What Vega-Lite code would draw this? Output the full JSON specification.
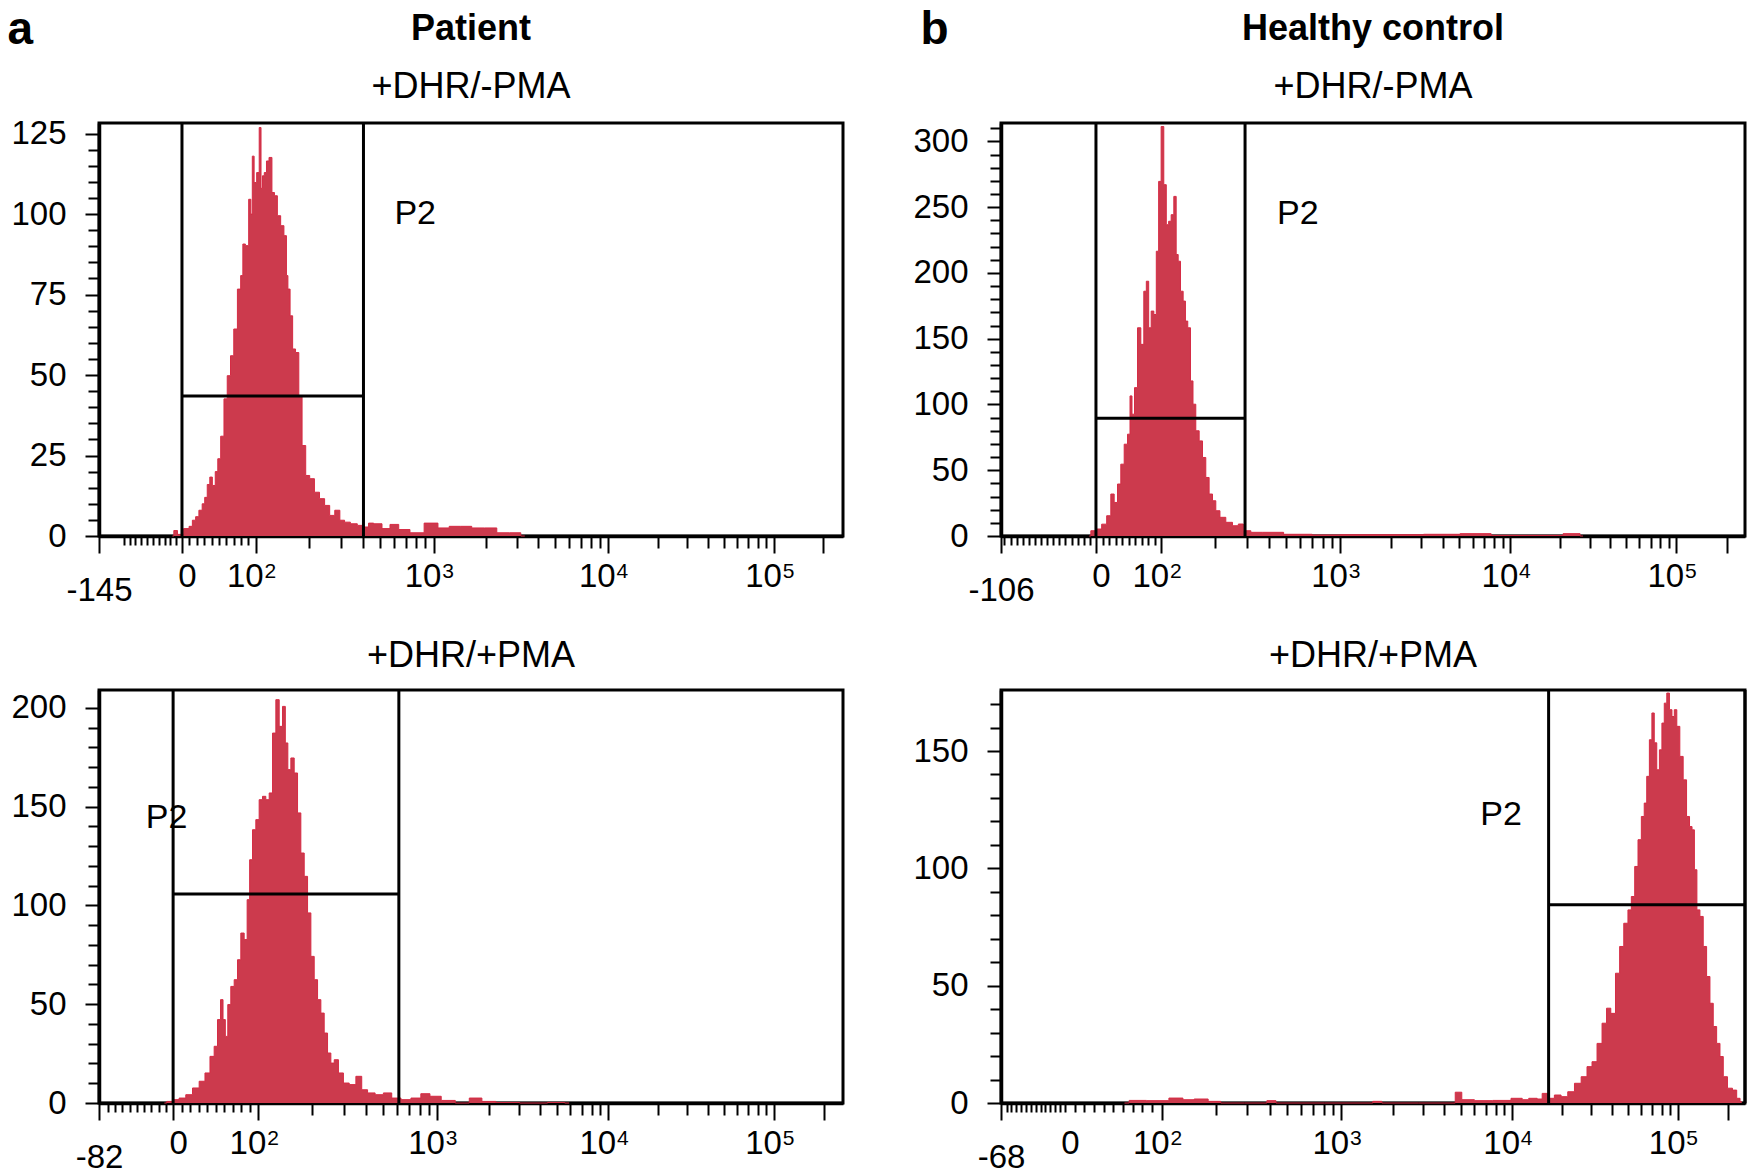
{
  "$schema": "https://vega.github.io/schema/vega-lite/v6.json",
  "background": "white",
  "padding": {"left": 5, "top": 4, "right": 5, "bottom": 3},
  "columns": 2,
  "spacing": {"row": 154, "column": 158},
  "bounds": "flush",
  "datasets": {
    "aT": [
      {"ch":101,"n":0},{"ch":105,"n":1.7},{"ch":111,"n":0.5},{"ch":122,"n":2.3},{"ch":126,"n":3},{"ch":131,"n":4.9},{"ch":135,"n":6},{"ch":140,"n":8},{"ch":144,"n":10},{"ch":147,"n":12},{"ch":151,"n":16},{"ch":154,"n":18.3},{"ch":158,"n":15.7},{"ch":162,"n":20},{"ch":165,"n":24},{"ch":170,"n":31},{"ch":174,"n":42.6},{"ch":179,"n":49.8},{"ch":183,"n":56},{"ch":188,"n":64.3},{"ch":193,"n":76.7},{"ch":197,"n":80.9},{"ch":199,"n":90.7},{"ch":204,"n":90.2},{"ch":208,"n":104.6},{"ch":210,"n":100},{"ch":212,"n":118},{"ch":215,"n":109.8},{"ch":219,"n":112.9},{"ch":222,"n":126.9},{"ch":224,"n":108},{"ch":226,"n":111.9},{"ch":229,"n":112.9},{"ch":232,"n":116.5},{"ch":236,"n":117.6},{"ch":240,"n":106.7},{"ch":243,"n":105.7},{"ch":248,"n":99.5},{"ch":252,"n":96.4},{"ch":257,"n":93.3},{"ch":259,"n":80.9},{"ch":261,"n":76.7},{"ch":265,"n":68.4},{"ch":268,"n":58.1},{"ch":273,"n":57},{"ch":277,"n":43.6},{"ch":282,"n":28.1},{"ch":287,"n":18.8},{"ch":293,"n":17.8},{"ch":300,"n":13.6},{"ch":307,"n":11.6},{"ch":314,"n":9.5},{"ch":321,"n":6.4},{"ch":328,"n":8},{"ch":335,"n":4.9},{"ch":341,"n":4.3},{"ch":351,"n":3.8},{"ch":360,"n":3.3},{"ch":369,"n":2.8},{"ch":373,"n":4},{"ch":383,"n":3.8},{"ch":396,"n":2.3},{"ch":405,"n":3.6},{"ch":420,"n":2},{"ch":436,"n":1},{"ch":459,"n":4},{"ch":474,"n":2.5},{"ch":490,"n":3},{"ch":505,"n":3},{"ch":521,"n":2.5},{"ch":540,"n":2.5},{"ch":555,"n":1},{"ch":575,"n":1},{"ch":586,"n":0}
    ],
    "aB": [
      {"ch":90,"n":0},{"ch":96.5,"n":0.8},{"ch":105.8,"n":1.7},{"ch":114.8,"n":2.5},{"ch":124.1,"n":4.2},{"ch":133.3,"n":7.6},{"ch":142.4,"n":11},{"ch":149.3,"n":15.2},{"ch":156.2,"n":23.6},{"ch":160.8,"n":28.7},{"ch":165.4,"n":42.2},{"ch":169.1,"n":52.3},{"ch":172.3,"n":42.2},{"ch":175.4,"n":33.7},{"ch":179.1,"n":49.8},{"ch":183.7,"n":59},{"ch":188.4,"n":62.4},{"ch":192.9,"n":72.5},{"ch":197.5,"n":86},{"ch":202.1,"n":82.7},{"ch":205.7,"n":102.9},{"ch":209,"n":123.1},{"ch":213.6,"n":138.3},{"ch":218.1,"n":143.4},{"ch":222.8,"n":153.5},{"ch":227.3,"n":155.2},{"ch":231.9,"n":153.5},{"ch":236.6,"n":156.9},{"ch":241.1,"n":187.2},{"ch":245.7,"n":204.1},{"ch":250.3,"n":190.6},{"ch":254.9,"n":200.7},{"ch":258,"n":182.2},{"ch":261.8,"n":168.7},{"ch":266.3,"n":174.6},{"ch":271,"n":167},{"ch":275.5,"n":146.8},{"ch":280.1,"n":126.5},{"ch":284.8,"n":114.7},{"ch":289.3,"n":96.2},{"ch":293.9,"n":74.2},{"ch":298.5,"n":62.4},{"ch":303.1,"n":52.3},{"ch":307.6,"n":45.5},{"ch":312.3,"n":35.4},{"ch":316.8,"n":25.3},{"ch":321.4,"n":20.2},{"ch":326.1,"n":21.9},{"ch":333,"n":15.2},{"ch":339.8,"n":10.1},{"ch":348.9,"n":9.3},{"ch":358.2,"n":13.5},{"ch":365,"n":6.7},{"ch":374.3,"n":5.1},{"ch":385.7,"n":4.2},{"ch":397.1,"n":5.1},{"ch":408.7,"n":2.5},{"ch":422.5,"n":1.7},{"ch":436.2,"n":2.5},{"ch":449.7,"n":4.7},{"ch":461.3,"n":3.4},{"ch":480.7,"n":1.3},{"ch":500,"n":0},{"ch":519.3,"n":2.5},{"ch":534.7,"n":0.8},{"ch":557.8,"n":0.3},{"ch":600,"n":0},{"ch":634.9,"n":0.3},{"ch":647,"n":0}
    ],
    "bT": [
      {"ch":121.4,"n":0},{"ch":125.9,"n":4},{"ch":135.1,"n":5.3},{"ch":142,"n":9},{"ch":148.9,"n":15.4},{"ch":153.4,"n":31.9},{"ch":158.1,"n":25.5},{"ch":162.6,"n":39.5},{"ch":167.2,"n":54.6},{"ch":171.9,"n":69.8},{"ch":176.4,"n":77.4},{"ch":178.7,"n":106.5},{"ch":181.9,"n":92.6},{"ch":185.6,"n":112.8},{"ch":190.2,"n":158.3},{"ch":194.7,"n":145.7},{"ch":198.4,"n":186.1},{"ch":201.6,"n":193.7},{"ch":204.9,"n":158.3},{"ch":208.5,"n":171},{"ch":212.2,"n":168.4},{"ch":215.3,"n":216.5},{"ch":218.6,"n":269.6},{"ch":222.2,"n":311.3},{"ch":225.9,"n":267.1},{"ch":229.1,"n":236.7},{"ch":232.4,"n":239.3},{"ch":236,"n":244.3},{"ch":239.7,"n":258.2},{"ch":242.5,"n":214},{"ch":245.2,"n":208.9},{"ch":248.9,"n":186.1},{"ch":252.5,"n":178.6},{"ch":255.2,"n":163.4},{"ch":258.9,"n":158.3},{"ch":262.7,"n":117.9},{"ch":265.8,"n":100.2},{"ch":270.4,"n":80},{"ch":275.1,"n":72.3},{"ch":279.6,"n":59.7},{"ch":284.1,"n":44.5},{"ch":288.8,"n":31.9},{"ch":293.4,"n":26.8},{"ch":297.9,"n":19.2},{"ch":304.8,"n":14.2},{"ch":314,"n":10.4},{"ch":323.2,"n":7.8},{"ch":330.1,"n":9.1},{"ch":337,"n":4},{"ch":350.7,"n":2.8},{"ch":369,"n":2.8},{"ch":408.9,"n":1.3},{"ch":447.5,"n":0.8},{"ch":486,"n":1},{"ch":554.8,"n":1},{"ch":608.5,"n":1.3},{"ch":655.3,"n":1.8},{"ch":693.8,"n":0.5},{"ch":754.4,"n":0.5},{"ch":792.9,"n":1.8},{"ch":801.1,"n":0}
    ],
    "bB": [
      {"ch":170,"n":0},{"ch":182.8,"n":1.1},{"ch":217.6,"n":1},{"ch":244.6,"n":2.1},{"ch":256.2,"n":1.4},{"ch":275.5,"n":1.7},{"ch":294.7,"n":0.7},{"ch":310,"n":0},{"ch":360,"n":0},{"ch":371.9,"n":1},{"ch":385,"n":0},{"ch":505,"n":0},{"ch":518.4,"n":0.7},{"ch":530,"n":0},{"ch":620,"n":0},{"ch":630.4,"n":4.6},{"ch":638,"n":1.4},{"ch":665.1,"n":1},{"ch":688.3,"n":1.1},{"ch":715.6,"n":2},{"ch":719.1,"n":1.4},{"ch":733.6,"n":2},{"ch":742.3,"n":1.7},{"ch":747.4,"n":4.1},{"ch":757,"n":2},{"ch":766.3,"n":3.4},{"ch":775.4,"n":2.7},{"ch":784.7,"n":4.8},{"ch":793.9,"n":8.4},{"ch":803.1,"n":11.2},{"ch":810,"n":15.5},{"ch":816.9,"n":17.6},{"ch":823.8,"n":25.4},{"ch":830.7,"n":34},{"ch":836.2,"n":40.4},{"ch":842.3,"n":38.2},{"ch":849.2,"n":55.3},{"ch":853.7,"n":66.7},{"ch":860.6,"n":76.6},{"ch":865.2,"n":82.3},{"ch":869.9,"n":88},{"ch":874.5,"n":100.8},{"ch":879,"n":112.2},{"ch":883.7,"n":122.1},{"ch":886.9,"n":127.8},{"ch":890.6,"n":139.2},{"ch":894.2,"n":154.8},{"ch":897.5,"n":166.2},{"ch":900.7,"n":153.5},{"ch":904.4,"n":142},{"ch":908,"n":150.5},{"ch":911.3,"n":161.9},{"ch":914.5,"n":170.4},{"ch":918.2,"n":174.7},{"ch":921.8,"n":167.6},{"ch":925.1,"n":164.7},{"ch":928.3,"n":167.6},{"ch":932,"n":160.5},{"ch":936.6,"n":147.7},{"ch":941.2,"n":137.7},{"ch":945.9,"n":122.1},{"ch":949.4,"n":117.8},{"ch":952.8,"n":116.4},{"ch":955.9,"n":99.4},{"ch":959.7,"n":82.3},{"ch":964.2,"n":79.5},{"ch":968.8,"n":66.7},{"ch":973.5,"n":53.9},{"ch":978,"n":42.5},{"ch":982.6,"n":32.6},{"ch":987.3,"n":25.4},{"ch":991.8,"n":19.8},{"ch":996.4,"n":11.2},{"ch":1003.3,"n":6.3},{"ch":1010.2,"n":5.5},{"ch":1014.9,"n":2},{"ch":1019.5,"n":0.6}
    ]
  },
  "concat": [
    {
      "width": 744, "height": 413,
      "title": {"text": "Patient", "subtitle": "+DHR/-PMA", "fontWeight": "bold", "fontSize": 36, "subtitlePadding": 22, "offset": 14, "dy": 114},
      "resolve": {"axis": {"x": "independent", "y": "independent"}},
      "layer": [
        {
          "data": {"name": "aT"},
          "mark": {"type": "area", "interpolate": "step", "color": "#cc3a4d", "opacity": 1, "line": {"color": "#d62b44", "strokeWidth": 1}},
          "encoding": {
            "x": {"field": "ch", "type": "quantitative", "scale": {"domain": [0, 1024], "nice": false, "zero": false},
              "axis": {"title": null, "orient": "bottom", "labelOverlap": false, "labelFlush": false, "labelBound": false, "tickSize": 17,
                "values": [0,114.2,215.9,460.4,700.2,929.2,997.1],
                "labelExpr": "datum.value == 0 ? '-145' : datum.value == 114.2 ? '0' : datum.value > 990 ? '' : '10'",
                "labelOffset": {"condition": [{"test": "datum.value == 0", "value": 0}, {"test": "datum.value < 150", "value": 5}], "value": -11},
                "labelPadding": {"condition": {"test": "datum.value == 0", "value": 21}, "value": 7}}},
            "y": {"field": "n", "type": "quantitative", "scale": {"domain": [0, 128.3], "nice": false},
              "axis": {"title": "a", "orient": "left", "titleAngle": 0, "titleX": -92, "titleY": -80, "titleAlign": "left", "titleBaseline": "alphabetic", "titleFontSize": 46, "titleFontWeight": "bold", "titleColor": "black",
                "values": [0,25,50,75,100,125], "labelOverlap": false, "tickSize": 14, "labelPadding": 19}}
          }
        },
        {"data": {"values": [{"g": 114.2}, {"g": 364}]}, "mark": {"type": "rule", "color": "black", "strokeWidth": 3},
          "encoding": {"x": {"field": "g", "type": "quantitative",
            "axis": {"title": null, "orient": "bottom", "labels": false, "domain": false,
              "values": [34.2,42.2,50.2,58.2,66.2,74.2,82.2,90.2,98.2,106.2,124.4,134.5,144.7,154.9,165.1,175.2,185.4,195.6,205.7,289.5,332.5,363.1,386.8,406.1,422.5,436.7,449.2,532.6,574.8,604.8,628,647,663,676.9,689.2,769.1,809.4,838.1,860.3,878.4,893.7,907,918.7],
              "tickSize": {"condition": {"test": "datum.value > 215.9", "value": 12}, "value": 9}}}}},
        {"data": {"values": [{"g1": 114.2, "g2": 364, "h": 43.5}]}, "mark": {"type": "rule", "color": "black", "strokeWidth": 3},
          "encoding": {"x": {"field": "g1", "type": "quantitative", "axis": null}, "x2": {"field": "g2"},
            "y": {"field": "h", "type": "quantitative", "axis": {"title": null, "orient": "left", "labels": false, "domain": false, "tickSize": 11,
              "values": [5,10,15,20,30,35,40,45,55,60,65,70,80,85,90,95,105,110,115,120]}}}},
        {"data": {"values": [{"tx": 406.6, "ty": 100, "label": "P2"}]}, "mark": {"type": "text", "align": "left", "baseline": "middle", "fontSize": 34, "color": "black"},
          "encoding": {"x": {"field": "tx", "type": "quantitative",
              "axis": {"title": null, "orient": "bottom", "domain": false, "tickSize": 17, "tickOpacity": 0, "labelOverlap": false, "labelFlush": false, "labelBound": false,
                "values": [215.9,460.4,700.2,929.2], "labelExpr": "datum.value < 300 ? '2' : datum.value < 600 ? '3' : datum.value < 800 ? '4' : '5'",
                "labelFontSize": 21, "labelOffset": 14, "labelPadding": 7}},
            "y": {"field": "ty", "type": "quantitative", "axis": null}, "text": {"field": "label"}}}
      ]
    },
    {
      "width": 744, "height": 413,
      "title": {"text": "Healthy control", "subtitle": "+DHR/-PMA", "fontWeight": "bold", "fontSize": 36, "subtitlePadding": 22, "offset": 14, "dy": 114},
      "resolve": {"axis": {"x": "independent", "y": "independent"}},
      "layer": [
        {
          "data": {"name": "bT"},
          "mark": {"type": "area", "interpolate": "step", "color": "#cc3a4d", "opacity": 1, "line": {"color": "#d62b44", "strokeWidth": 1}},
          "encoding": {
            "x": {"field": "ch", "type": "quantitative", "scale": {"domain": [0, 1024], "nice": false, "zero": false},
              "axis": {"title": null, "orient": "bottom", "labelOverlap": false, "labelFlush": false, "labelBound": false, "tickSize": 17,
                "values": [0,130.7,220.6,466.6,701.1,929.4,999.4],
                "labelExpr": "datum.value == 0 ? '-106' : datum.value == 130.7 ? '0' : datum.value > 990 ? '' : '10'",
                "labelOffset": {"condition": [{"test": "datum.value == 0", "value": 0}, {"test": "datum.value < 150", "value": 5}], "value": -11},
                "labelPadding": {"condition": {"test": "datum.value == 0", "value": 21}, "value": 7}}},
            "y": {"field": "n", "type": "quantitative", "scale": {"domain": [0, 314], "nice": false},
              "axis": {"title": "b", "orient": "left", "titleAngle": 0, "titleX": -81, "titleY": -80, "titleAlign": "left", "titleBaseline": "alphabetic", "titleFontSize": 46, "titleFontWeight": "bold", "titleColor": "black",
                "values": [0,50,100,150,200,250,300], "labelOverlap": false, "tickSize": 14, "labelPadding": 19}}
          }
        },
        {"data": {"values": [{"g": 130.7}, {"g": 335.9}]}, "mark": {"type": "rule", "color": "black", "strokeWidth": 3},
          "encoding": {"x": {"field": "g", "type": "quantitative",
            "axis": {"title": null, "orient": "bottom", "labels": false, "domain": false,
              "values": [4.7,13.1,21.5,29.9,38.3,46.7,55.1,63.5,71.9,80.3,88.7,97.1,105.5,113.9,122.3,139.7,148.7,157.7,166.7,175.7,184.7,193.7,202.7,211.7,294.6,337.9,368.7,392.6,412,428.5,442.7,455.3,537.2,578.5,607.8,630.5,649,664.8,678.4,690.3,769.8,810,838.5,860.7,878.7,894,907.3,918.9],
              "tickSize": {"condition": {"test": "datum.value > 220.6", "value": 12}, "value": 9}}}}},
        {"data": {"values": [{"g1": 130.7, "g2": 335.9, "h": 89.5}]}, "mark": {"type": "rule", "color": "black", "strokeWidth": 3},
          "encoding": {"x": {"field": "g1", "type": "quantitative", "axis": null}, "x2": {"field": "g2"},
            "y": {"field": "h", "type": "quantitative", "axis": {"title": null, "orient": "left", "labels": false, "domain": false, "tickSize": 11,
              "values": [10,20,30,40,60,70,80,90,110,120,130,140,160,170,180,190,210,220,230,240,260,270,280,290,310]}}}},
        {"data": {"values": [{"tx": 379.8, "ty": 244.8, "label": "P2"}]}, "mark": {"type": "text", "align": "left", "baseline": "middle", "fontSize": 34, "color": "black"},
          "encoding": {"x": {"field": "tx", "type": "quantitative",
              "axis": {"title": null, "orient": "bottom", "domain": false, "tickSize": 17, "tickOpacity": 0, "labelOverlap": false, "labelFlush": false, "labelBound": false,
                "values": [220.6,466.6,701.1,929.4], "labelExpr": "datum.value < 300 ? '2' : datum.value < 600 ? '3' : datum.value < 800 ? '4' : '5'",
                "labelFontSize": 21, "labelOffset": 14, "labelPadding": 7}},
            "y": {"field": "ty", "type": "quantitative", "axis": null}, "text": {"field": "label"}}}
      ]
    },
    {
      "width": 744, "height": 413,
      "title": {"text": "+DHR/+PMA", "offset": 14},
      "resolve": {"axis": {"x": "independent", "y": "independent"}},
      "layer": [
        {
          "data": {"name": "aB"},
          "mark": {"type": "area", "interpolate": "step", "color": "#cc3a4d", "opacity": 1, "line": {"color": "#d62b44", "strokeWidth": 1}},
          "encoding": {
            "x": {"field": "ch", "type": "quantitative", "scale": {"domain": [0, 1024], "nice": false, "zero": false},
              "axis": {"title": null, "orient": "bottom", "labelOverlap": false, "labelFlush": false, "labelBound": false, "tickSize": 17,
                "values": [0,102,219.5,465.2,701,929.1,997.2],
                "labelExpr": "datum.value == 0 ? '-82' : datum.value == 102 ? '0' : datum.value > 990 ? '' : '10'",
                "labelOffset": {"condition": [{"test": "datum.value == 0", "value": 0}, {"test": "datum.value < 150", "value": 5}], "value": -11},
                "labelPadding": {"condition": {"test": "datum.value == 0", "value": 21}, "value": 7}}},
            "y": {"field": "n", "type": "quantitative", "scale": {"domain": [0, 209], "nice": false},
              "axis": {"title": null, "orient": "left", "values": [0,50,100,150,200], "labelOverlap": false, "tickSize": 14, "labelPadding": 19}}
          }
        },
        {"data": {"values": [{"g": 102}, {"g": 412.7}]}, "mark": {"type": "rule", "color": "black", "strokeWidth": 3},
          "encoding": {"x": {"field": "g", "type": "quantitative",
            "axis": {"title": null, "orient": "bottom", "labels": false, "domain": false,
              "values": [12,22,32,42,52,62,72,82,92,113.8,125.5,137.3,149,160.8,172.5,184.3,196,207.8,293.5,336.7,367.4,391.2,410.7,427.1,441.4,453.9,536.2,577.7,607.2,630,648.7,664.4,678.1,690.1,769.7,809.8,838.3,860.4,878.5,893.7,907,918.6],
              "tickSize": {"condition": {"test": "datum.value > 219.5", "value": 12}, "value": 9}}}}},
        {"data": {"values": [{"g1": 102, "g2": 412.7, "h": 105.8}]}, "mark": {"type": "rule", "color": "black", "strokeWidth": 3},
          "encoding": {"x": {"field": "g1", "type": "quantitative", "axis": null}, "x2": {"field": "g2"},
            "y": {"field": "h", "type": "quantitative", "axis": {"title": null, "orient": "left", "labels": false, "domain": false, "tickSize": 11,
              "values": [10,20,30,40,60,70,80,90,110,120,130,140,160,170,180,190]}}}},
        {"data": {"values": [{"tx": 64.4, "ty": 144.2, "label": "P2"}]}, "mark": {"type": "text", "align": "left", "baseline": "middle", "fontSize": 34, "color": "black"},
          "encoding": {"x": {"field": "tx", "type": "quantitative",
              "axis": {"title": null, "orient": "bottom", "domain": false, "tickSize": 17, "tickOpacity": 0, "labelOverlap": false, "labelFlush": false, "labelBound": false,
                "values": [219.5,465.2,701,929.1], "labelExpr": "datum.value < 300 ? '2' : datum.value < 600 ? '3' : datum.value < 800 ? '4' : '5'",
                "labelFontSize": 21, "labelOffset": 14, "labelPadding": 7}},
            "y": {"field": "ty", "type": "quantitative", "axis": null}, "text": {"field": "label"}}}
      ]
    },
    {
      "width": 744, "height": 413,
      "title": {"text": "+DHR/+PMA", "offset": 14},
      "resolve": {"axis": {"x": "independent", "y": "independent"}},
      "layer": [
        {
          "data": {"name": "bB"},
          "mark": {"type": "area", "interpolate": "step", "color": "#cc3a4d", "opacity": 1, "line": {"color": "#d62b44", "strokeWidth": 1}},
          "encoding": {
            "x": {"field": "ch", "type": "quantitative", "scale": {"domain": [0, 1024], "nice": false, "zero": false},
              "axis": {"title": null, "orient": "bottom", "labelOverlap": false, "labelFlush": false, "labelBound": false,
                "values": [0,88,221.4,468.3,703.6,931.3,1000.7],
                "labelExpr": "datum.value == 0 ? '-68' : datum.value == 88 ? '0' : datum.value > 990 ? '' : '10'",
                "tickSize": {"condition": {"test": "datum.value == 88", "value": 9}, "value": 17},
                "labelOffset": {"condition": [{"test": "datum.value == 0", "value": 0}, {"test": "datum.value < 150", "value": 5}], "value": -11},
                "labelPadding": {"condition": [{"test": "datum.value == 0", "value": 21}, {"test": "datum.value == 88", "value": 15}], "value": 7}}},
            "y": {"field": "n", "type": "quantitative", "scale": {"domain": [0, 176], "nice": false},
              "axis": {"title": null, "orient": "left", "values": [0,50,100,150], "labelOverlap": false, "tickSize": 14, "labelPadding": 19}}
          }
        },
        {"data": {"values": [{"g": 753.7}, {"g": 1024}]}, "mark": {"type": "rule", "color": "black", "strokeWidth": 3},
          "encoding": {"x": {"field": "g", "type": "quantitative",
            "axis": {"title": null, "orient": "bottom", "labels": false, "domain": false,
              "values": [7.6,14.3,21,27.7,34.4,41.1,47.8,54.5,61.2,67.9,74.6,81.3,101.3,114.6,127.9,141.2,154.5,167.8,181.1,194.4,207.7,295.7,339.2,370,394,413.5,430,444.4,456.9,539.1,580.5,610,632.8,651.4,667.1,680.8,692.8,772.1,812.2,840.7,862.8,880.7,896,909.2,920.8],
              "tickSize": {"condition": {"test": "datum.value > 221.4", "value": 12}, "value": 9}}}}},
        {"data": {"values": [{"g1": 753.7, "g2": 1024, "h": 84.5}]}, "mark": {"type": "rule", "color": "black", "strokeWidth": 3},
          "encoding": {"x": {"field": "g1", "type": "quantitative", "axis": null}, "x2": {"field": "g2"},
            "y": {"field": "h", "type": "quantitative", "axis": {"title": null, "orient": "left", "labels": false, "domain": false, "tickSize": 11,
              "values": [10,20,30,40,60,70,80,90,110,120,130,140,160,170]}}}},
        {"data": {"values": [{"tx": 659.6, "ty": 122.7, "label": "P2"}]}, "mark": {"type": "text", "align": "left", "baseline": "middle", "fontSize": 34, "color": "black"},
          "encoding": {"x": {"field": "tx", "type": "quantitative",
              "axis": {"title": null, "orient": "bottom", "domain": false, "tickSize": 17, "tickOpacity": 0, "labelOverlap": false, "labelFlush": false, "labelBound": false,
                "values": [221.4,468.3,703.6,931.3], "labelExpr": "datum.value < 300 ? '2' : datum.value < 600 ? '3' : datum.value < 800 ? '4' : '5'",
                "labelFontSize": 21, "labelOffset": 14, "labelPadding": 7}},
            "y": {"field": "ty", "type": "quantitative", "axis": null}, "text": {"field": "label"}}}
      ]
    }
  ],
  "config": {
    "font": "Liberation Sans",
    "view": {"stroke": "black", "strokeWidth": 3},
    "axis": {"domainColor": "black", "domainWidth": 3.5, "tickColor": "black", "tickWidth": 2, "labelColor": "black", "labelFontSize": 33, "labelFont": "Liberation Sans", "grid": false, "labelOverlap": false},
    "text": {"font": "Liberation Sans"},
    "title": {"fontSize": 36, "font": "Liberation Sans", "fontWeight": "normal", "color": "black", "subtitleFontSize": 36, "subtitleColor": "black", "subtitleFont": "Liberation Sans", "anchor": "middle", "frame": "group"}
  }
}
